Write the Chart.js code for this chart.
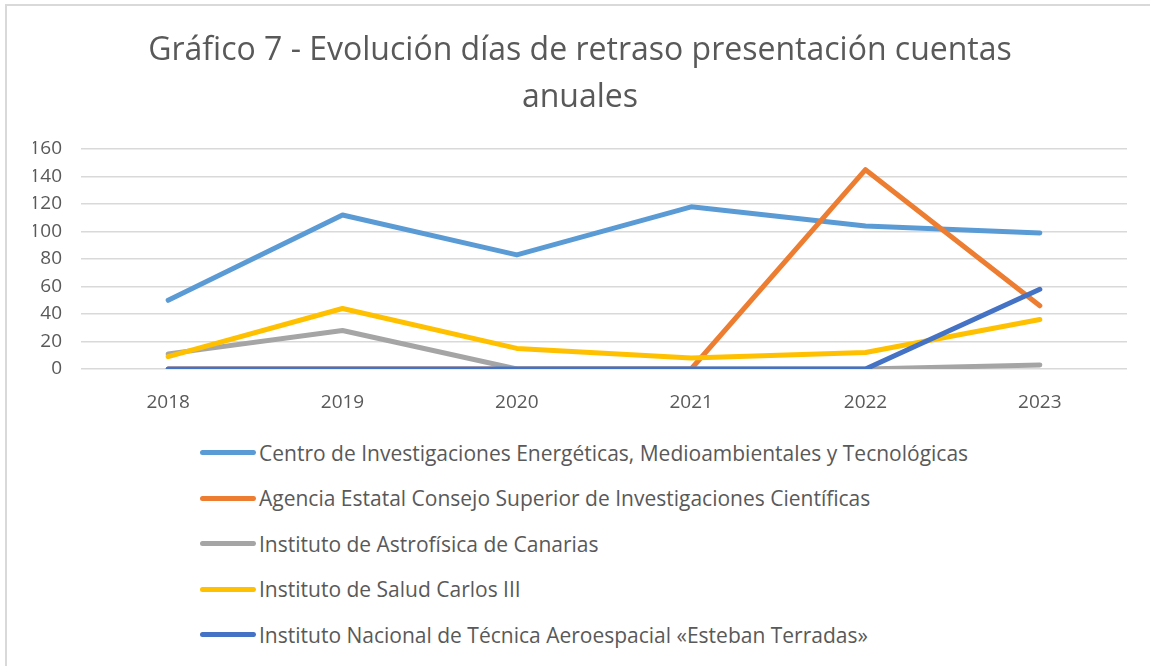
<!DOCTYPE html>
<html>
<head>
<meta charset="utf-8">
<script src="https://cdn.jsdelivr.net/npm/chart.js@4"></script>
<style>
  body { margin: 0; background: #fff; overflow: hidden; }
  #frame { position: absolute; left: 5px; top: 4px; width: 1200px; height: 700px; border: 2px solid #d9d9d9; box-sizing: border-box; }
  #wrap { position: absolute; left: 0; top: 0; width: 1150px; height: 420px; }
  #legend { position: absolute; left: 200px; top: 430px; font-family: "Open Sans", sans-serif; font-size: 21px; color: #595959; }
  .item { height: 45.5px; display: flex; align-items: center; }
  .swatch { width: 56px; height: 5px; border-radius: 3px; margin-right: 3px; }
</style>
</head>
<body>
<div id="frame"></div>
<div id="wrap"><canvas id="chart"></canvas></div>
<div id="legend"></div>
<script>
const years = ['2018', '2019', '2020', '2021', '2022', '2023'];
const seriesNames = [
  'Centro de Investigaciones Energéticas, Medioambientales y Tecnológicas',
  'Agencia Estatal Consejo Superior de Investigaciones Científicas',
  'Instituto de Astrofísica de Canarias',
  'Instituto de Salud Carlos III',
  'Instituto Nacional de Técnica Aeroespacial «Esteban Terradas»'
];
const ciemat = [50, 112, 83, 118, 104, 99];
const csic = [0, 0, 0, 0, 145, 46];
const iac = [11, 28, 0, 0, 0, 3];
const isciii = [9, 44, 15, 8, 12, 36];
const inta = [0, 0, 0, 0, 0, 58];
const colors = ['#5B9BD5', '#ED7D31', '#A5A5A5', '#FFC000', '#4472C4'];

const values = [ciemat, csic, iac, isciii, inta];
const datasets = values.map((v, i) => ({
  label: seriesNames[i],
  data: v,
  borderColor: colors[i],
  backgroundColor: colors[i],
  borderWidth: 5,
  pointRadius: 0,
  tension: 0,
  borderCapStyle: 'round',
  borderJoinStyle: 'round',
  order: values.length - 1 - i // later series on top, like Excel
}));

const ctx = document.getElementById('chart');
new Chart(ctx, {
  type: 'line',
  data: { labels: years, datasets: datasets },
  options: {
    responsive: true,
    maintainAspectRatio: false,
    animation: false,
    layout: { padding: { left: 33, right: 23, top: 0, bottom: 0 } },
    plugins: {
      legend: { display: false },
      tooltip: { enabled: false },
      title: {
        display: true,
        text: ['Gráfico 7 - Evolución días de retraso presentación cuentas', 'anuales'],
        color: '#595959',
        font: { family: 'Open Sans', size: 32, weight: 'normal', lineHeight: 1.47 },
        padding: { top: 27, bottom: 28 }
      }
    },
    scales: {
      x: {
        offset: true,
        grid: { display: false },
        border: { display: false },
        ticks: { color: '#595959', font: { family: 'Open Sans', size: 19 }, padding: 14 },
        afterFit: (axis) => { axis.height = 51; }
      },
      y: {
        min: 0,
        max: 160,
        grid: { color: '#d9d9d9', lineWidth: 1.5, drawTicks: false },
        border: { display: false },
        ticks: { stepSize: 20, color: '#595959', font: { family: 'Open Sans', size: 19 }, padding: 19 },
        afterFit: (axis) => { axis.width = 48; }
      }
    }
  }
});

const legend = document.getElementById('legend');
seriesNames.forEach((name, i) => {
  const row = document.createElement('div');
  row.className = 'item';
  row.innerHTML = '<span class="swatch" style="background:' + colors[i] + '"></span><span>' + name + '</span>';
  legend.appendChild(row);
});
</script>
</body>
</html>
